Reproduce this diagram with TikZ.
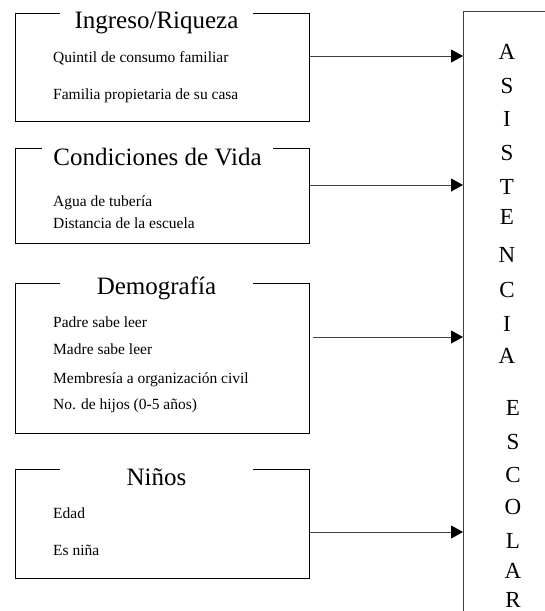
\documentclass[tikz,border=0pt]{standalone}
\usepackage{fontspec}
\setmainfont{Liberation Serif}
\usetikzlibrary{arrows.meta}

\tikzset{
	caja/.style={draw, rectangle, line width=0.9pt, minimum width=294pt, anchor=north west, inner sep=0pt},
	titulo/.style={fill=white, anchor=base, minimum width=193pt, inner xsep=0pt, inner ysep=4pt, font=\fontsize{25}{30}\selectfont},
	item/.style={anchor=base west, inner sep=0pt, font=\fontsize{15.5}{18}\selectfont},
	letra/.style={inner sep=0pt, font=\fontsize{23}{26}\selectfont},
	flecha/.style={draw=black!75, line width=0.9pt, -{Triangle[length=12pt,width=13pt,color=black]}}
}

\begin{document}
\begin{tikzpicture}[x=1pt,y=-1pt]
	\useasboundingbox (0,0) rectangle (545,611);
	\clip (0,0) rectangle (545,611);
	% columna de la derecha
	\node[draw=black!75, line width=0.9pt, anchor=north west, minimum width=120pt, minimum height=650pt] (asist) at (463,11) {};
	\foreach \ch/\y in {A/52,S/86,I/119,S/153,T/187,E/217,N/255,C/290,I/324,A/356}
		\node[letra] (a-\y) at (507,\y) {\ch};
	\foreach \ch/\y in {E/408,S/442,C/475,O/507,L/541,A/571,R/600}
		\node[letra] (e-\y) at (513,\y) {\ch};
	% cajas
	\node[caja, minimum height=108pt] (ingreso) at (15,13) {};
	\node[caja, minimum height=95pt] (condic) at (15,148) {};
	\node[caja, minimum height=150pt] (demog) at (15,283) {};
	\node[caja, minimum height=109pt] (ninos) at (15,469) {};
	\node[titulo] (t-ingreso) at (156.5,28) {Ingreso/Riqueza};
	\node[titulo, minimum width=231pt] (t-condic) at (157.5,165) {Condiciones de Vida};
	\node[titulo] (t-demog) at (156.5,294) {Demografía};
	\node[titulo] (t-ninos) at (156.5,485) {Niños};
	\node[item] (i-quintil) at (53,62) {Quintil de consumo familiar};
	\node[item] (i-casa) at (53,99) {Familia propietaria de su casa};
	\node[item] (i-agua) at (53,206) {Agua de tubería};
	\node[item] (i-dist) at (53,228) {Distancia de la escuela};
	\node[item] (i-padre) at (53,327) {Padre sabe leer};
	\node[item] (i-madre) at (53,354) {Madre sabe leer};
	\node[item] (i-memb) at (53,383) {Membresía a organización civil};
	\node[item] (i-hijos) at (53,409) {No. de hijos (0-5 años)};
	\node[item] (i-edad) at (53,518) {Edad};
	\node[item] (i-nina) at (53,555) {Es niña};
	% flechas
	\coordinate (f1) at (0,56);
	\coordinate (f2) at (0,185);
	\coordinate (f3) at (313,337);
	\coordinate (f4) at (0,532);
	\draw[flecha] (ingreso.east |- f1) -- (asist.west |- f1);
	\draw[flecha] (condic.east |- f2) -- (asist.west |- f2);
	\draw[flecha] (f3) -- (asist.west |- f3);
	\draw[flecha] (ninos.east |- f4) -- (asist.west |- f4);
\end{tikzpicture}
\end{document}
